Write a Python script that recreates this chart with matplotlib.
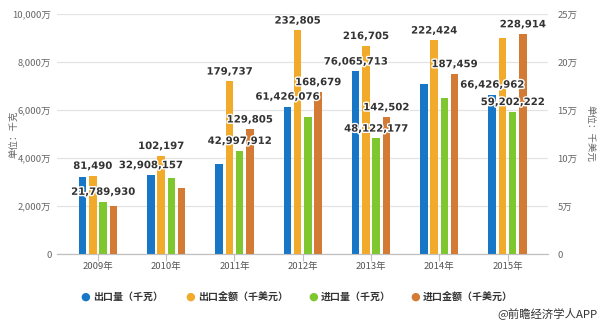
import numpy as np
import matplotlib.pyplot as plt
import matplotlib.patheffects as pe

plt.rcParams['font.family'] = ['Noto Sans CJK SC', 'DejaVu Sans']

# data
years = ['2009年', '2010年', '2011年', '2012年', '2013年', '2014年', '2015年']
export_qty = [32200000, 32908157, 37500000, 61426076, 76065713, 71000000, 66426962]   # 千克
export_amt = [81490, 102197, 179737, 232805, 216705, 222424, 225000]                  # 千美元
import_qty = [21789930, 31800000, 42997912, 57000000, 48122177, 65000000, 59202222]   # 千克
import_amt = [49500, 69000, 129805, 168679, 142502, 187459, 228914]                   # 千美元

# which values carry a data label
show_export_qty = [False, True, False, True, True, False, True]
show_export_amt = [True, True, True, True, True, True, False]
show_import_qty = [True, False, True, False, True, False, True]
show_import_amt = [False, False, True, True, True, True, True]

left_ticks = [0, 2000, 4000, 6000, 8000, 10000]
left_ticklabels = ['0', '2,000万', '4,000万', '6,000万', '8,000万', '10,000万']
right_ticks = [0, 5, 10, 15, 20, 25]
right_ticklabels = ['0', '5万', '10万', '15万', '20万', '25万']

series_names = ['出口量（千克）', '出口金额（千美元）', '进口量（千克）', '进口金额（千美元）']
colors = ['#1777c6', '#f2aa2a', '#7ec72e', '#d37b35']

fig = plt.figure(figsize=(6, 3.24), dpi=100)
ax = fig.add_axes([0.095, 0.216, 0.818, 0.741])
ax2 = ax.twinx()

x = np.arange(len(years))
w = 0.11
step = 0.15

eq = np.array(export_qty) / 1e4
iq = np.array(import_qty) / 1e4
ea = np.array(export_amt) / 1e4
ia = np.array(import_amt) / 1e4

ax.bar(x - 1.5 * step, eq, w, color=colors[0], zorder=3)
ax.bar(x + 0.5 * step, iq, w, color=colors[2], zorder=3)
ax2.bar(x - 0.5 * step, ea, w, color=colors[1], zorder=3)
ax2.bar(x + 1.5 * step, ia, w, color=colors[3], zorder=3)

# all labels live on the top axes so no bar covers them
def label_bars(src_ax, xs, vals, shows):
    for xi, v, s in zip(xs, vals, shows):
        if not s:
            continue
        ax2.annotate(f'{v:,}', (xi, v / 1e4), xycoords=src_ax.transData,
                     xytext=(0, 3.5), textcoords='offset points',
                     ha='center', va='bottom', fontsize=7.3, fontweight='bold',
                     family='DejaVu Sans', color='#333333', zorder=10,
                     path_effects=[pe.withStroke(linewidth=2, foreground='white')])

label_bars(ax, x - 1.5 * step, export_qty, show_export_qty)
label_bars(ax, x + 0.5 * step, import_qty, show_import_qty)
label_bars(ax2, x - 0.5 * step, export_amt, show_export_amt)
label_bars(ax2, x + 1.5 * step, import_amt, show_import_amt)

ax.set_xlim(-0.60, 6.59)
ax.set_ylim(0, 10000)
ax2.set_ylim(0, 25)

ax.set_yticks(left_ticks)
ax.set_yticklabels(left_ticklabels)
ax2.set_yticks(right_ticks)
ax2.set_yticklabels(right_ticklabels)
ax.set_xticks(x)
ax.set_xticklabels(years)

ax.grid(axis='y', color='#e3e3e3', linewidth=0.9, zorder=0)
ax.set_axisbelow(True)
for a in (ax, ax2):
    for side in ['top', 'left', 'right']:
        a.spines[side].set_visible(False)
    a.spines['bottom'].set_color('#c0c0c0')
    a.tick_params(axis='y', length=0, labelsize=6.8, labelcolor='#666666')
ax.tick_params(axis='y', pad=4)
ax2.tick_params(axis='y', pad=7)
ax.tick_params(axis='x', length=5, color='#c0c0c0', labelsize=6.8, labelcolor='#555555', pad=1)

ax.set_ylabel('单位：千克', fontsize=6.8, color='#666666', labelpad=2)
ax.yaxis.set_label_coords(-0.078, 0.5)
ax2.set_ylabel('单位：千美元', fontsize=6.8, color='#666666', rotation=-90, va='bottom')
ax2.yaxis.set_label_coords(1.075, 0.5)

# legend
legend_x = [0.142, 0.317, 0.522, 0.692]
for lx, name, c in zip(legend_x, series_names, colors):
    fig.text(lx, 0.085, '●', color=c, fontsize=8, ha='center', va='center', family='DejaVu Sans')
    fig.text(lx + 0.013, 0.085, name, fontsize=7.2, fontweight='bold', color='#333333',
             ha='left', va='center')

fig.text(0.995, 0.033, '@前瞻经济学人APP', fontsize=8.2, color='#333333', ha='right', va='center')

fig.savefig('out.png', dpi=100, facecolor='white')
